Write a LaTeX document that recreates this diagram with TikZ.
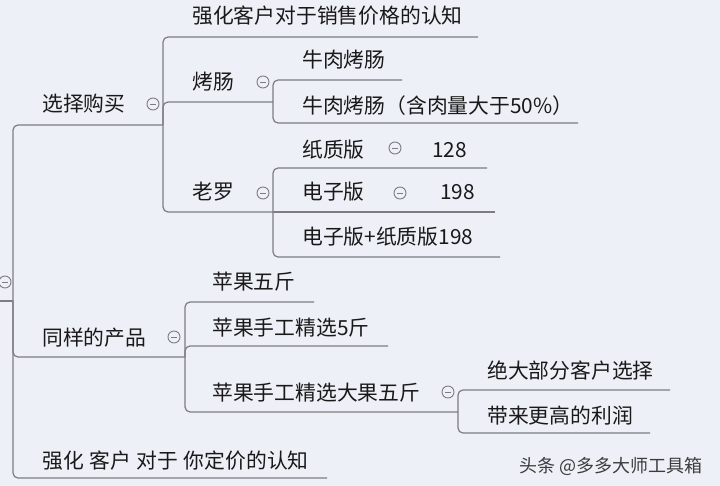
\documentclass[tikz,border=0pt]{standalone}
\usepackage{fontspec}
\setmainfont{Noto Sans CJK SC}
\definecolor{bg}{RGB}{238,240,247}
\definecolor{wire}{RGB}{125,125,130}
\definecolor{ink}{RGB}{25,25,25}
\definecolor{mark}{RGB}{60,60,60}
\tikzset{
  topic/.style={anchor=base west, inner sep=0pt, text=ink, font=\fontsize{20.8}{24}\selectfont},
  branch/.style={draw=wire, line width=1.2pt, rounded corners=5pt},
  fold/.style={circle, draw=wire, line width=0.9pt, fill=bg, minimum size=12pt, inner sep=0pt,
    path picture={\draw[wire, line width=0.9pt] ([xshift=-3pt]path picture bounding box.center) -- ([xshift=3pt]path picture bounding box.center);}},
}
\begin{document}
\begin{tikzpicture}[x=1pt,y=-1pt]
		\fill[bg] (0,0) rectangle (720,486);
		\useasboundingbox (0,0) rectangle (720,486);

		% topics
		\node[topic] (qhxs) at (192,24) {强化客户对于销售价格的认知};
		\node[topic] (xzgm) at (42,112) {选择购买};
		\node[topic] (kc) at (192,90) {烤肠};
		\node[topic] (nrkc) at (302,68) {牛肉烤肠};
		\node[topic] (hrl) at (302,114) {牛肉烤肠（含肉量大于50\%）};
		\node[topic] (lz) at (192,200) {老罗};
		\node[topic] (zzb) at (302,158) {纸质版};
		\node[topic] (n128) at (432,158) {128};
		\node[topic] (dzb) at (302,200) {电子版};
		\node[topic] (n198) at (440,200) {198};
		\node[topic] (both) at (302,245) {电子版+纸质版198};
		\node[topic] (tyd) at (42,345) {同样的产品};
		\node[topic] (pg5) at (212,290) {苹果五斤};
		\node[topic] (sg5) at (212,335) {苹果手工精选5斤};
		\node[topic] (dg5) at (212,400) {苹果手工精选大果五斤};
		\node[topic] (jdbf) at (487,378) {绝大部分客户选择};
		\node[topic] (dlgg) at (487,423) {带来更高的利润};
		\node[topic] (qhdj) at (42,468) {强化\hspace{.27em}客户\hspace{.27em}对于\hspace{.27em}你定价的认知};
		\node[topic, font=\fontsize{18}{20}\selectfont, text=mark] (wm) at (519,472) {头条 @多多大师工具箱};

		% underline ends
		\coordinate (root-s) at (0,301);
		\coordinate (root-e) at (13,301);
		\coordinate (xzgm-e) at (163,125);
		\coordinate (tyd-e) at (185,357);
		\coordinate (qhdj-e) at (327,478);
		\coordinate (qhxs-e) at (478,37);
		\coordinate (kc-e) at (273,102);
		\coordinate (lz-e) at (273,212);
		\coordinate (nrkc-e) at (402,80);
		\coordinate (hrl-e) at (578,123);
		\coordinate (zzb-e) at (487,168);
		\coordinate (dzb-e) at (495,212);
		\coordinate (both-e) at (500,257);
		\coordinate (pg5-e) at (314,302);
		\coordinate (sg5-e) at (388,346);
		\coordinate (dg5-e) at (458,412);
		\coordinate (jdbf-e) at (670,390);
		\coordinate (dlgg-e) at (650,433);

		% branches
		\draw[branch] (root-s) -- (root-e);
		\draw[branch] (root-e) |- (xzgm-e);
		\draw[branch] (root-e) |- (tyd-e);
		\draw[branch] (root-e) |- (qhdj-e);
		\draw[branch] (xzgm-e) |- (qhxs-e);
		\draw[branch] (xzgm-e) |- (kc-e);
		\draw[branch] (xzgm-e) |- (lz-e);
		\draw[branch] (kc-e) |- (nrkc-e);
		\draw[branch] (kc-e) |- (hrl-e);
		\draw[branch] (lz-e) |- (zzb-e);
		\draw[branch] (lz-e) -- (dzb-e);
		\draw[branch] (lz-e) |- (both-e);
		\draw[branch] (tyd-e) |- (pg5-e);
		\draw[branch] (tyd-e) |- (sg5-e);
		\draw[branch] (tyd-e) |- (dg5-e);
		\draw[branch] (dg5-e) |- (jdbf-e);
		\draw[branch] (dg5-e) |- (dlgg-e);

		% collapse marks
		\node[fold] (root-f) at (5,282) {};
		\node[fold] (xzgm-f) at (153,104) {};
		\node[fold] (kc-f) at (263,82) {};
		\node[fold] (lz-f) at (263,193) {};
		\node[fold] (zzb-f) at (395,148) {};
		\node[fold] (dzb-f) at (400,193) {};
		\node[fold] (tyd-f) at (174,337) {};
		\node[fold] (dg5-f) at (448,392) {};
\end{tikzpicture}
\end{document}
